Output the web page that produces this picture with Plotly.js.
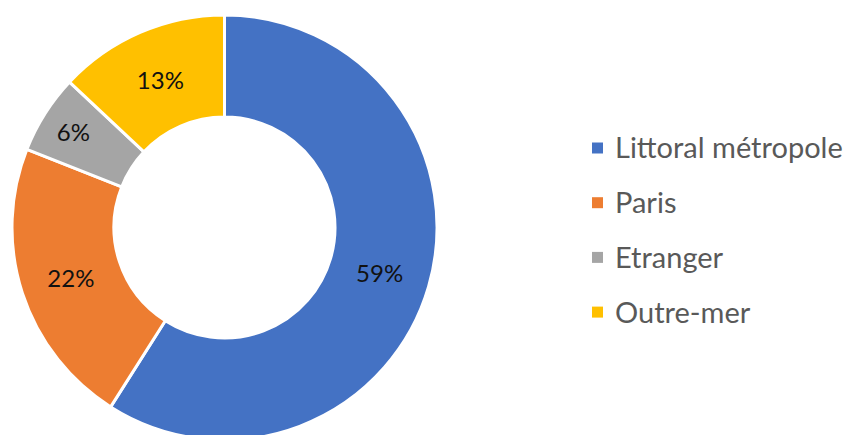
<!DOCTYPE html>
<html>
<head>
<meta charset="utf-8">
<script src="https://cdn.plot.ly/plotly-3.0.1.min.js"></script>
<style>
html, body { margin: 0; padding: 0; overflow: hidden; background: #fff; }
#chart { width: 849px; height: 455px; }
</style>
</head>
<body>
<div id="chart"></div>
<script>
const categories = ["Littoral métropole", "Paris", "Etranger", "Outre-mer"];
const values = [59, 22, 6, 13];
const colors = ["#4472C4", "#ED7D31", "#A5A5A5", "#FFC000"];

const W = 849, H = 455;
const FONT = "Lato, 'Open Sans', sans-serif";

const trace = {
  type: "pie",
  labels: categories,
  values: values,
  sort: false,
  direction: "clockwise",
  rotation: 0,
  hole: 0.52,
  marker: { colors: colors, line: { color: "#ffffff", width: 3 } },
  texttemplate: "%{value}%",
  textinfo: "text",
  textposition: "inside",
  insidetextorientation: "horizontal",
  textfont: { family: FONT, size: 24, color: "#111111" },
  showlegend: false,
  domain: { x: [12 / W, 437 / W], y: [15 / H, 440 / H] },
  hoverinfo: "label+percent"
};

// Legend drawn as annotations + shapes, built from the arrays
const legendY0 = 147, legendStep = 54.7;
const annotations = categories.map((c, i) => ({
  xref: "paper", yref: "paper",
  x: 613 / W, y: 1 - (legendY0 + i * legendStep) / H,
  xanchor: "left", yanchor: "middle",
  text: c, showarrow: false,
  font: { family: FONT, size: 29, color: "#595959" }
}));
const shapes = categories.map((c, i) => {
  const cy = legendY0 + i * legendStep + 1;
  return {
    type: "rect", xref: "paper", yref: "paper",
    x0: 592 / W, x1: 603 / W,
    y0: 1 - (cy - 5.5) / H, y1: 1 - (cy + 5.5) / H,
    fillcolor: colors[i], line: { width: 0 }
  };
});

const layout = {
  width: W, height: H,
  margin: { l: 0, r: 0, t: 0, b: 0 },
  paper_bgcolor: "#ffffff",
  showlegend: false,
  annotations: annotations,
  shapes: shapes
};

Plotly.newPlot("chart", [trace], layout, { displayModeBar: false, staticPlot: true });
</script>
</body>
</html>
